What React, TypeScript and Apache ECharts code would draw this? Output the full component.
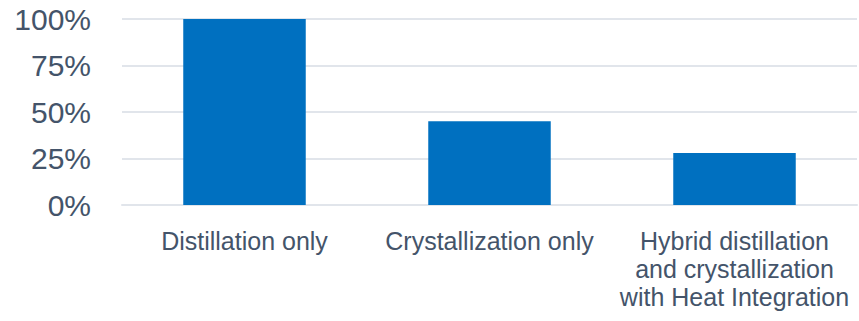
import React, { useEffect, useRef } from "react";
import * as echarts from "echarts";

const categories = [
  "Distillation only",
  "Crystallization only",
  "Hybrid distillation\nand crystallization\nwith Heat Integration",
];
const values = [100, 45, 28];
const yTicks = [0, 25, 50, 75, 100];

export default function App() {
  const ref = useRef<HTMLDivElement>(null);
  useEffect(() => {
    if (!ref.current) return;
    const chart = echarts.init(ref.current, null, { renderer: "svg" });
    chart.setOption({
      animation: false,
      grid: { left: 122, right: 2, top: 19, bottom: 116, containLabel: false },
      xAxis: {
        type: "category",
        data: categories,
        axisTick: { show: false },
        axisLine: { show: true, lineStyle: { color: "#E1E5EB", width: 2 } },
        axisLabel: {
          color: "#44546A",
          fontFamily: "Liberation Sans, Arial, sans-serif",
          fontSize: 25,
          lineHeight: 28,
          margin: 22,
          interval: 0,
        },
      },
      yAxis: {
        type: "value",
        min: yTicks[0],
        max: yTicks[yTicks.length - 1],
        interval: 25,
        axisLine: { show: false },
        axisTick: { show: false },
        splitLine: { lineStyle: { color: "#E1E5EB", width: 2 } },
        axisLabel: {
          color: "#44546A",
          fontFamily: "Liberation Sans, Arial, sans-serif",
          fontSize: 30,
          margin: 31,
          formatter: (v: number) => v + "%",
        },
      },
      series: [
        {
          type: "bar",
          data: values,
          barWidth: "50%",
          itemStyle: { color: "#0070C0" },
        },
      ],
    });
    return () => chart.dispose();
  }, []);
  return <div ref={ref} style={{ width: 859, height: 321, position: "absolute", left: 0, top: 0 }} />;
}
